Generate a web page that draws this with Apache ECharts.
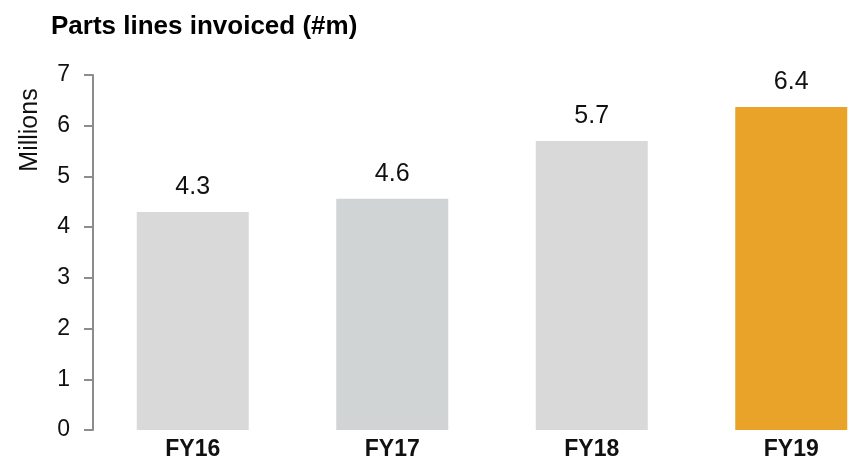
<!DOCTYPE html>
<html>
<head>
<meta charset="utf-8">
<script src="https://cdn.jsdelivr.net/npm/echarts@6/dist/echarts.min.js"></script>
<style>
  html, body { margin: 0; padding: 0; background: #fff; overflow: hidden; }
  /* wider than the window: the last band runs past the right edge in the original */
  #main { width: 891px; height: 461px; }
</style>
</head>
<body>
<div id="main"></div>
<script>
// data
var categories = ['FY16', 'FY17', 'FY18', 'FY19'];
var values = [4.3, 4.56, 5.7, 6.37];
var barColors = ['#d9d9d9', '#d0d4d4', '#d9d9d9', '#e9a328'];
var yTicks = [0, 1, 2, 3, 4, 5, 6, 7];

var myChart = echarts.init(document.getElementById('main'));

var option = {
  animation: false,
  title: {
    text: 'Parts lines invoiced (#m)',
    left: 46,
    top: 9,
    textStyle: { fontFamily: 'Liberation Sans', fontSize: 26, fontWeight: 'bold', color: '#000' }
  },
  grid: { left: 93, right: 0, top: 75, bottom: 31 },
  graphic: [{
    type: 'text',
    x: 30,
    y: 130,
    rotation: Math.PI / 2,
    style: {
      text: 'Millions',
      font: '25px "Liberation Sans"',
      fill: '#111',
      align: 'center',
      verticalAlign: 'middle'
    }
  }],
  xAxis: {
    type: 'category',
    data: categories,
    axisLine: { show: false },
    axisTick: { show: false },
    axisLabel: {
      margin: 8,
      fontFamily: 'Liberation Sans',
      fontSize: 23,
      fontWeight: 'bold',
      color: '#111'
    }
  },
  yAxis: {
    type: 'value',
    min: yTicks[0],
    max: yTicks[yTicks.length - 1],
    interval: 1,
    splitLine: { show: false },
    axisLine: { show: true, lineStyle: { color: '#8c8c8c', width: 2 } },
    axisTick: { show: true, length: 9, lineStyle: { color: '#8c8c8c', width: 2 } },
    axisLabel: {
      margin: 23,
      fontFamily: 'Liberation Sans',
      fontSize: 23,
      color: '#111'
    }
  },
  series: [{
    type: 'bar',
    barWidth: 112,
    data: values.map(function (v, i) {
      return { value: v, itemStyle: { color: barColors[i] } };
    }),
    label: {
      show: true,
      position: 'top',
      distance: 12,
      fontFamily: 'Liberation Sans',
      fontSize: 25,
      color: '#111',
      formatter: function (p) { return p.value.toFixed(1); }
    }
  }]
};

myChart.setOption(option);
</script>
</body>
</html>
